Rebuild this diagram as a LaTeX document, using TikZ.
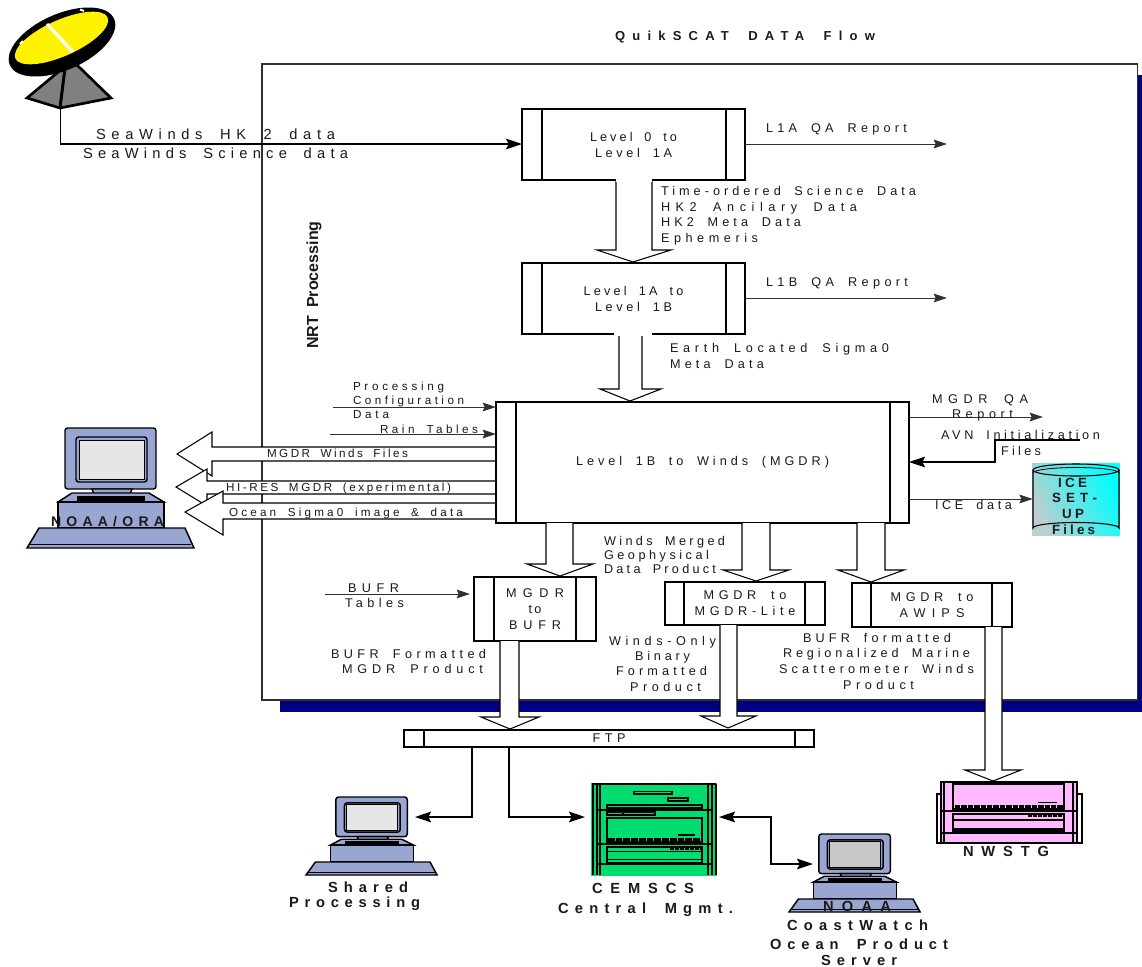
\documentclass[tikz,border=0pt]{standalone}
\usepackage{fontspec}
\setmainfont[WordSpace=1.8]{Liberation Sans}
\usetikzlibrary{arrows.meta}
\definecolor{navyshadow}{HTML}{000080}
\definecolor{pcblue}{HTML}{9AA6D2}
\definecolor{scrlight}{HTML}{E6E6E6}
\definecolor{scrdark}{HTML}{C8C8C8}
\definecolor{srvgreen}{HTML}{00DC6E}
\definecolor{srvpink}{HTML}{FFB9FF}
\definecolor{inktext}{HTML}{1A1A1A}
\definecolor{inkline}{HTML}{303030}
\tikzset{
  bigtip/.tip={Stealth[length=12pt,width=8pt,inset=2pt]},
  smalltip/.tip={Stealth[length=10pt,width=6.5pt,inset=1.5pt]},
  thinflow/.style={draw=inkline,line width=0.75pt,-smalltip},
  heavyflow/.style={draw=black,line width=1.1pt,-bigtip},
  blockflow/.style={draw=black,line width=0.8pt,fill=white},
  procnode/.style={draw=black,line width=1.3pt,fill=white,inner sep=0pt,outer sep=0pt,align=center,text=inktext,font=\fontsize{9.5}{12}\selectfont},
  procbar/.style={draw=black,line width=1.5pt},
  txt/.style={anchor=base west,inner sep=0pt,outer sep=0pt,text=inktext},
  devdraw/.style={draw=black,line width=1.1pt},
  slot/.style={draw=black,line width=0.8pt},
}
% tracked text: fits #3 to a width of #2 px
\newcommand\fl[3][9.5]{{\fontsize{#1}{12}\selectfont
  \sbox0{#3}\sbox2{\addfontfeature{LetterSpace=100}#3}%
  \pgfmathsetmacro\lsval{100*(#2*0.75-\the\wd0)/(\the\wd2-\the\wd0)}%
  \edef\lstmp{\noexpand\addfontfeature{LetterSpace=\lsval}}\lstmp #3}}
\newcount\labc
\newcommand\labx[6]{\global\advance\labc by 1
  \pgfmathsetmacro\laby{#5+#1*0.477}\pgfmathsetmacro\labw{#4-#3}%
  \node[txt,font=#2] (lab\the\labc) at (#3,\laby) {\fl[#1]{\labw}{#6}};}
\newcommand\lab[5][9.5]{\labx{#1}{\mdseries}{#2}{#3}{#4}{#5}}
\newcommand\labb[5][11]{\labx{#1}{\bfseries}{#2}{#3}{#4}{#5}}
% name x0 y0 x1 y1 bar0 bar1 content
\newcommand\procbox[8]{%
  \pgfmathsetmacro\pw{(#4-#2)*0.75}\pgfmathsetmacro\ph{(#5-#3)*0.75}%
  \pgfmathsetmacro\pcx{(#2+#4)/2}\pgfmathsetmacro\pcy{(#3+#5)/2}%
  \node[procnode,minimum width=\pw pt,minimum height=\ph pt] (#1) at (\pcx,\pcy) {#8};
  \draw[procbar] (#6,#3) -- (#6,#5) (#7,#3) -- (#7,#5);}
% name x y xscale yscale screen
\newcommand\computer[6]{%
  \begin{scope}[shift={(#2,#3)},xscale=#4,yscale=#5]
    \node[inner sep=0pt,minimum size=0pt] (#1) at (83,60) {};
    \draw[devdraw,fill=pcblue,rounded corners=2pt] (38,0) rectangle (129,61);
    \draw[devdraw,fill=pcblue,rounded corners=2pt] (49,9) rectangle (120,54);
    \draw[draw=black,line width=0.6pt,fill=#6] (52,12) rectangle (117,51);
    \draw[devdraw,fill=pcblue] (65,61) -- (67,66) -- (103,66) -- (105,61) -- cycle;
    \draw[devdraw,fill=pcblue] (31,74) -- (45,65) -- (122,65) -- (137,74) -- cycle;
    \fill[black] (50,68) rectangle (118,73);
    \draw[devdraw,fill=pcblue] (31,74) rectangle (137,100);
    \draw[devdraw,fill=pcblue] (12,100) -- (158,100) -- (167,120) -- (0,120) -- cycle;
    \draw[draw=black,line width=0.6pt] (3,116) -- (164,116);
  \end{scope}}
\begin{document}
\begin{tikzpicture}[x=0.75pt,y=-0.75pt]
\useasboundingbox (0,0) rectangle (1142,967);
\fill[white] (0,0) rectangle (1142,967);

% frame with shadow
\fill[navyshadow] (280,75) rectangle (1142,712);
\draw[draw=inkline,line width=0.8pt,fill=white] (262,64) rectangle (1137.5,700);

% dish
\draw[black,line width=2pt,fill=gray,line join=miter] (27,98) -- (60,108) -- (111,98) -- (77,65) -- (63,68) -- cycle;
\draw[black,line width=2.2pt] (60,108) -- (65,68);
\fill[black,rotate around={24:(62,42)}] (62,42) ellipse [x radius=57,y radius=28];
\fill[yellow,rotate around={24:(61.5,38)}] (61.5,38) ellipse [x radius=50.5,y radius=18];
\draw[white,line width=2.4pt] (47,24) -- (73,52);
\draw[white,line width=1.5pt] (80,9.5) -- (84,11);
\draw[white,line width=1.5pt] (20,44) -- (23,41);
\coordinate (dishfoot) at (60.5,108);

% process boxes
\procbox{lzero}{522}{109}{745}{180}{542}{726}{\fl{87}{Level 0 to}\\\fl{77}{Level 1A}}
\procbox{lone}{522}{263}{745}{334}{542}{726}{\fl{100}{Level 1A to}\\\fl{77}{Level 1B}}
\procbox{mgdr}{496}{402}{909}{523}{515.5}{890}{\fl{253}{Level 1B to Winds (MGDR)}}
\procbox{tobufr}{474}{577}{596}{641}{494}{576}{\fl{58}{MGDR}\\\fl{13}{to}\\\fl{52}{BUFR}}
\procbox{tolite}{665}{582}{825}{625}{684}{805}{\fl{83}{MGDR to}\\\fl{101}{MGDR-Lite}}
\procbox{toawips}{852}{583}{1012}{627}{871}{992}{\fl{83}{MGDR to}\\\fl{65}{AWIPS}}
\procbox{ftp}{404}{730}{814}{747}{424}{795}{\fl{33}{FTP}}

% devices
\computer{ora}{27}{428}{1}{1}{scrlight}
\computer{shared}{306}{797}{0.785}{0.65}{scrlight}
\computer{coast}{789}{834}{0.785}{0.65}{scrdark}

% CEMSCS server
\node[fill=srvgreen,inner sep=0pt,outer sep=0pt,minimum width=94.5pt,minimum height=69.75pt] (cemscs) at (654,829.5) {};
\draw[slot,line width=1.2pt] (592,784) -- (716,784);
\draw[slot] (593,784) -- (593,875) (597,784) -- (597,875) (600,784) -- (600,875);
\draw[slot] (708,784) -- (708,875) (712,784) -- (712,875) (716,784) -- (716,875);
\draw[slot,line width=1.2pt] (597,810) -- (712,810) (597,844) -- (712,844) (597,864) -- (712,864);
\draw[slot] (634,791.5) rectangle (672,794) (668,798) rectangle (688,801) (607,805) rectangle (702,808);
\draw[slot] (607,812) rectangle (655,815) (623,812) -- (623,815);
\draw[slot] (607,818) rectangle (702,842);
\fill[black] (678,834) rectangle (695,836);
\draw[black,line width=2.4pt,dash pattern=on 5pt off 0.8pt] (608,840) -- (702,840);
\draw[slot] (607,847) rectangle (702,863) (607,851.5) -- (702,851.5) (607,859.5) -- (702,859.5);
\draw[black,line width=2.2pt,dash pattern=on 3pt off 0.7pt] (670,848.5) -- (701,848.5);

% NWSTG server
\draw[draw=black,line width=0.8pt,fill=white] (937,794) rectangle (943,843) (1076,794) rectangle (1082,843);
\node[draw=black,line width=0.9pt,fill=srvpink,inner sep=0pt,outer sep=0pt,minimum width=102pt,minimum height=45.75pt] (nwstg) at (1009,812.5) {};
\draw[slot] (944,782) -- (944,843) (1073,782) -- (1073,843);
\draw[slot,line width=1.2pt] (941,811) -- (1077,811) (941,833) -- (1077,833);
\draw[slot] (953,784) rectangle (1064,809);
\fill[black] (1038,801.5) rectangle (1057,803);
\draw[black,line width=2.4pt,dash pattern=on 4pt off 0.8pt] (955,807) -- (1063,807);
\draw[slot] (953,814) rectangle (1064,831) (953,820) -- (1064,820) (953,829) -- (1064,829);
\draw[black,line width=2pt,dash pattern=on 3pt off 0.7pt] (1028,816) -- (1063,816);

% ICE cylinder
\definecolor{icegray}{HTML}{BCCFD0}
\shade[shading=axis,bottom color=icegray,middle color=icegray!75!cyan,top color=cyan,shading angle=-65] (1032,463) rectangle (1119.5,535);
\node[inner sep=0pt,minimum size=0pt] (ice) at (1033,499) {};
\draw[black,line width=0.8pt] (1033,470) -- (1033,528) arc[start angle=180,end angle=360,x radius=43,y radius=5.5] -- (1119,470);
\draw[black,line width=0.8pt] (1076,470) ellipse [x radius=43,y radius=6];
\draw[black,line width=0.6pt] (1033,473) arc[start angle=180,end angle=360,x radius=43,y radius=5.5];

% block arrows
\draw[blockflow] (616,0 |- lzero.south) -- (616,250) -- (597,250) -- (633,262) -- (671,250) -- (652,250) -- (652,0 |- lzero.south);
\fill[white] (616,179) rectangle (652,181.5);
\draw[blockflow] (619,0 |- lone.south) -- (619,389) -- (600,389) -- (630,401) -- (661,389) -- (642,389) -- (642,0 |- lone.south);
\fill[white] (614,333) rectangle (652,335.5);
\draw[blockflow] (546,0 |- mgdr.south) -- (546,564) -- (527,564) -- (560,576) -- (593,564) -- (573,564) -- (573,0 |- mgdr.south);
\draw[blockflow] (742,0 |- mgdr.south) -- (742,570) -- (723,570) -- (756,581) -- (789,570) -- (770,570) -- (770,0 |- mgdr.south);
\draw[blockflow] (857,0 |- mgdr.south) -- (857,570) -- (838,570) -- (871,582) -- (904,570) -- (885,570) -- (885,0 |- mgdr.south);
\draw[blockflow] (500,0 |- tobufr.south) -- (500,717) -- (481,717) -- (510,729) -- (539,717) -- (519,717) -- (519,0 |- tobufr.south);
\draw[blockflow] (720,0 |- tolite.south) -- (720,716) -- (701,716) -- (728,728) -- (756,716) -- (737,716) -- (737,0 |- tolite.south);
\draw[blockflow] (985,0 |- toawips.south) -- (985,770) -- (965,770) -- (993,781) -- (1021,770) -- (1002,770) -- (1002,0 |- toawips.south);
% block arrows to NOAA/ORA
\draw[blockflow] (mgdr.west |- 0,447) -- (212,447) -- (212,432) -- (177,454) -- (212,476) -- (212,461) -- (mgdr.west |- 0,461);
\draw[blockflow] (mgdr.west |- 0,481) -- (207,481) -- (207,469) -- (176,487) -- (207,506) -- (207,494) -- (mgdr.west |- 0,494);
\draw[blockflow] (mgdr.west |- 0,503) -- (223,503) -- (223,491) -- (185,512) -- (223,535) -- (223,519) -- (mgdr.west |- 0,519);
\draw[procbar] (mgdr.north west) -- (mgdr.south west);

% connectors
\draw[heavyflow] (dishfoot) -- (60.5,144) -- (lzero.west |- 0,144);
\coordinate (rqaone) at (947,144);
\coordinate (rqatwo) at (947,298);
\draw[thinflow] (lzero.east |- rqaone) -- (rqaone);
\draw[thinflow] (lone.east |- rqatwo) -- (rqatwo);
\coordinate (rqathree) at (1043,417);
\draw[thinflow] (mgdr.east |- rqathree) -- (rqathree);
\coordinate (avnsrc) at (1080,440);
\draw[heavyflow,line width=0.9pt] (avnsrc) -- (995,440) -- (995,462) -- (mgdr.east |- 0,462);
\draw[thinflow] (mgdr.east |- ice) -- (ice);
\coordinate (procsrc) at (333,407);
\coordinate (rainsrc) at (330,434);
\draw[thinflow] (procsrc) -- (mgdr.west |- procsrc);
\draw[thinflow] (rainsrc) -- (mgdr.west |- rainsrc);
\coordinate (bufrsrc) at (325,594);
\draw[thinflow] (bufrsrc) -- (470,594);
\draw[heavyflow] (472,0 |- ftp.south) -- (472,817) -- (415,817);
\draw[heavyflow] (509,0 |- ftp.south) -- (509,817) -- (585,817);
\coordinate (coastin) at (813,864);
\draw[heavyflow,bigtip-bigtip] (719,817) -- (771,817) -- (771,864) -- (coastin);

% labels
\labb[9.75]{615}{875}{36}{QuikSCAT DATA Flow}
\node[rotate=90,font=\bfseries\fontsize{12}{14}\selectfont,text=inktext,inner sep=0pt] (nrt) at (314,285) {NRT Processing};
\lab[11]{96}{335}{134}{SeaWinds HK 2 data}
\lab[11]{83}{348}{153}{SeaWinds Science data}
\lab{766}{907}{128}{L1A QA Report}
\lab{766}{908}{282}{L1B QA Report}
\lab{661}{916}{191}{Time-ordered Science Data}
\lab{661}{857}{207}{HK2 Ancilary Data}
\lab{661}{801}{222}{HK2 Meta Data}
\lab{661}{758}{238}{Ephemeris}
\lab{670}{889}{348}{Earth Located Sigma0}
\lab{670}{764}{364}{Meta Data}
\lab[8.75]{353}{444}{386}{Processing}
\lab[8.75]{353}{464}{400}{Configuration}
\lab[8.75]{353}{389}{414}{Data}
\lab[8.75]{380}{478}{429}{Rain Tables}
\lab[8.75]{267}{408}{453}{MGDR Winds Files}
\lab[8.75]{226}{451}{487}{HI-RES MGDR (experimental)}
\lab[8.75]{229}{463}{512}{Ocean Sigma0 image \& data}
\labb[10.5]{51}{164}{521}{NOAA/ORA}
\lab{932}{1028}{399}{MGDR QA}
\lab{952}{1013}{414}{Report}
\lab{941}{1100}{435}{AVN Initialization}
\lab{1001}{1041}{451}{Files}
\lab{935}{1012}{505}{ICE data}
\labb[10]{1058}{1087}{483}{ICE}
\labb[10]{1052}{1097}{498}{SET-}
\labb[10]{1062}{1084}{514}{UP}
\labb[10]{1052}{1095}{530}{Files}
\lab{604}{725}{541}{Winds Merged}
\lab{604}{709}{555}{Geophysical}
\lab{604}{716}{569}{Data Product}
\lab{609}{716}{641}{Winds-Only}
\lab{635}{690}{656}{Binary}
\lab{616}{707}{671}{Formatted}
\lab{630}{701}{687}{Product}
\lab{803}{951}{638}{BUFR formatted}
\lab{783}{970}{653}{Regionalized Marine}
\lab{779}{974}{669}{Scatterometer Winds}
\lab{843}{914}{685}{Product}
\lab{348}{399}{588}{BUFR}
\lab{345}{404}{603}{Tables}
\lab{331}{486}{654}{BUFR Formatted}
\lab{342}{483}{669}{MGDR Product}
\labb{328}{408}{887}{Shared}
\labb{289}{420}{902}{Processing}
\labb{592}{694}{888}{CEMSCS}
\labb{558}{733}{908}{Central Mgmt.}
\labb{823}{891}{906}{NOAA}
\labb{787}{928}{925}{CoastWatch}
\labb{770}{948}{944}{Ocean Product}
\labb{821}{897}{960.5}{Server}
\labb{963}{1049}{851}{NWSTG}
\end{tikzpicture}
\end{document}
